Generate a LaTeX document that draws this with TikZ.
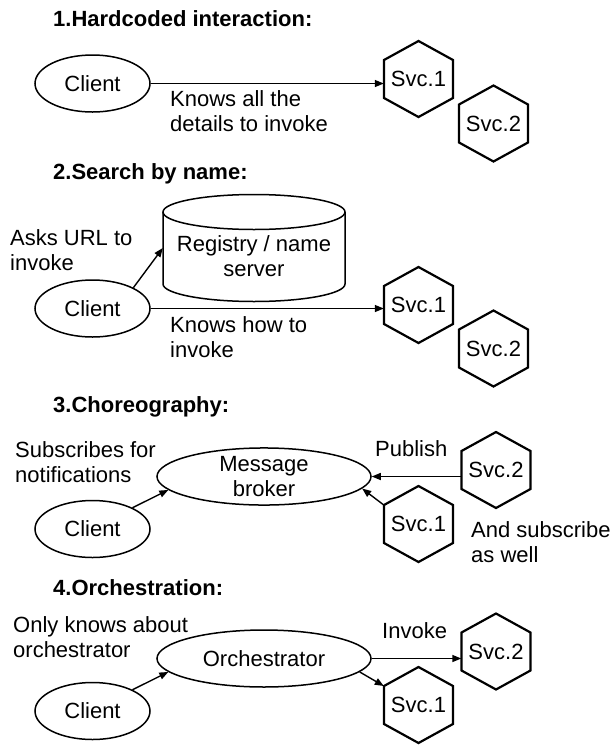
\documentclass[tikz,border=0pt]{standalone}
\usepackage{fontspec}
\setmainfont{Liberation Sans}
\usetikzlibrary{shapes.geometric,arrows.meta,calc}
\newcommand\twoline[1]{\begin{tabular}[t]{@{}l@{}}#1\end{tabular}}
\newcommand\hexnode[4]{%
  \node[hexbox] (#1) at (#2,#3) {#4};
  \draw[hexline] ($(#1.center)+(0,-38)$) -- ++(34.5,19) -- ++(0,38) -- ++(-34.5,19) -- ++(-34.5,-19) -- ++(0,-38) -- cycle;
}
\tikzset{
  every node/.style={font=\fontsize{22}{25}\selectfont, inner sep=0pt},
  ell/.style={draw, ellipse, line width=1.5pt, minimum width=115pt, minimum height=57pt, align=center},
  bigell/.style={ell, minimum width=214pt},
  hexbox/.style={minimum width=69pt, minimum height=76pt},
  hexline/.style={line width=2.2pt, line join=miter},
  conn/.style={line width=1.4pt, -{Triangle[length=9pt,width=7pt]}},
  lbl/.style={anchor=base west},
  ttl/.style={anchor=base west, font=\fontsize{22}{25}\selectfont\bfseries},
  cyl/.style={line width=1.5pt},
}
\begin{document}
\begin{tikzpicture}[x=1pt,y=-1pt]
\useasboundingbox (0,0) rectangle (613,745);
% ---- 1
\node[ttl] (t1) at (53,26) {1.Hardcoded interaction:};
\node[ell] (c1) at (92.5,83.5) {Client};
\hexnode{s11}{418.5}{79}{Svc.1}
\hexnode{s12}{493.5}{123.5}{Svc.2}
\draw[conn] (c1.east) -- (c1.east -| s11.west);
\node[lbl] (l1) at (170,106) {\twoline{Knows all the\\details to invoke}};
% ---- 2
\node[ttl] (t2) at (53,179) {2.Search by name:};
\draw[cyl] (254,212) ellipse [x radius=91pt, y radius=17.5pt];
\draw[cyl] (163,212) -- (163,284) arc [start angle=180, end angle=360, x radius=91pt, y radius=17.5pt] -- (345,212);
\node[align=center, minimum width=182pt] (reg) at (254,256.6) {Registry / name\\server};
\node[ell] (c2) at (92.5,308.5) {Client};
\hexnode{s21}{418.5}{305}{Svc.1}
\hexnode{s22}{493.5}{348.5}{Svc.2}
\draw[conn] (c2.27) -- ([yshift=8.6pt]reg.west);
\draw[conn] (c2.east) -- (c2.east -| s21.west);
\node[lbl] (l2a) at (10,245) {\twoline{Asks URL to\\invoke}};
\node[lbl] (l2b) at (170,332) {\twoline{Knows how to\\invoke}};
% ---- 3
\node[ttl] (t3) at (53,412) {3.Choreography:};
\node[lbl] (l3a) at (15,457) {\twoline{Subscribes for\\notifications}};
\node[bigell] (b3) at (264,476.5) {Message\\broker};
\node[ell] (c3) at (92.5,529) {Client};
\hexnode{s32}{496}{470}{Svc.2}
\hexnode{s31}{418.5}{524}{Svc.1}
\node[lbl] (l3b) at (375,456) {Publish};
\node[lbl] (l3c) at (471,537) {\twoline{And subscribe\\as well}};
\draw[conn] (c3.28) -- (b3.188);
\draw[conn] (b3.east -| s32.west) -- (b3.east);
\draw[conn] ($(s31.west)+(0,-19)$) -- (b3.-7.5);
% ---- 4
\node[ttl] (t4) at (53,595) {4.Orchestration:};
\node[lbl] (l4a) at (13,632) {\twoline{Only knows about\\orchestrator}};
\node[bigell] (o4) at (264,658.5) {Orchestrator};
\node[ell] (c4) at (92.5,711) {Client};
\hexnode{s42}{496}{651.5}{Svc.2}
\hexnode{s41}{418.5}{705}{Svc.1}
\node[lbl] (l4b) at (382,638) {Invoke};
\draw[conn] (c4.28) -- (o4.188);
\draw[conn] (o4.east) -- (o4.east -| s42.west);
\draw[conn] (o4.-8) -- ($(s41.west)+(0,-19)$);
\end{tikzpicture}
\end{document}
